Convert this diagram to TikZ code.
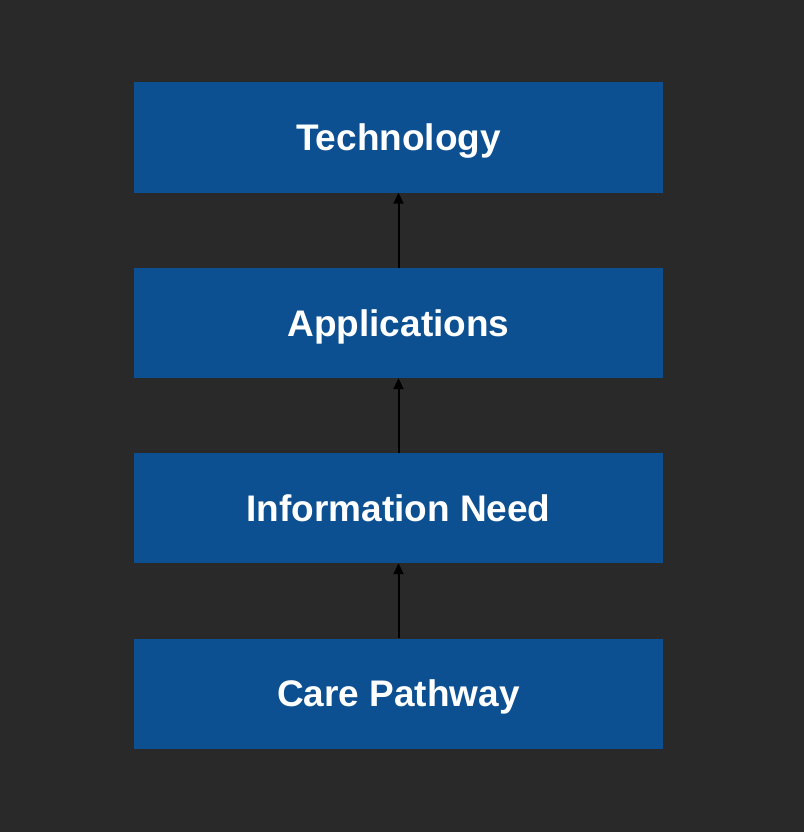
\documentclass[tikz,border=0pt]{standalone}
\usepackage{fontspec}
\setmainfont{Liberation Sans}
\usetikzlibrary{arrows.meta}
\definecolor{bgc}{HTML}{292929}
\definecolor{boxc}{HTML}{0D5091}
\tikzset{
  layer/.style={draw=none, fill=boxc, minimum width=529pt, minimum height=110pt, inner sep=0pt,
    text depth=0pt, text=white, font=\fontsize{37}{40}\selectfont\bfseries},
  link/.style={draw=black, line width=2pt, -{Triangle[length=11pt,width=10pt]}}
}
\begin{document}
\begin{tikzpicture}[x=1pt,y=-1pt]
\fill[bgc] (0,0) rectangle (804,832);
\useasboundingbox (0,0) rectangle (804,832);
\node[layer] (tech) at (398.5,137.5) {Technology};
\node[layer] (app) at (398.5,323) {Applications};
\node[layer] (info) at (398.5,508) {Information Need};
\node[layer] (care) at (398.5,693.5) {Care Pathway};
\draw[link] (care.north) -- (info.south);
\draw[link] (info.north) -- (app.south);
\draw[link] (app.north) -- (tech.south);
\end{tikzpicture}
\end{document}
